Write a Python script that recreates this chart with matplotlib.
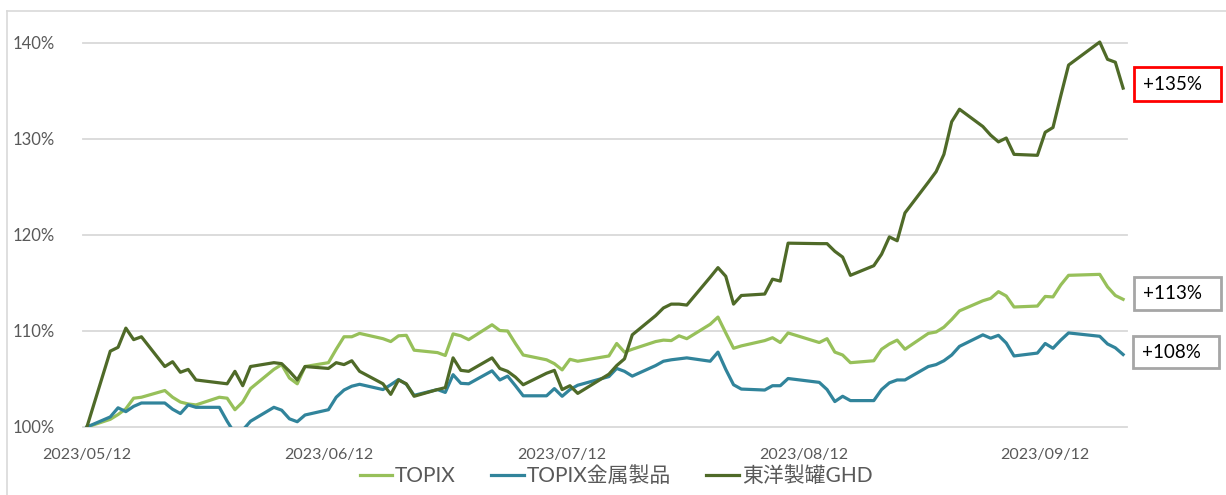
import matplotlib
matplotlib.use("Agg")
import matplotlib.pyplot as plt
from matplotlib.patches import Rectangle
from matplotlib.lines import Line2D
import pandas as pd

plt.rcParams['font.family'] = ['Lato', 'Noto Sans CJK JP', 'DejaVu Sans']

# ---------------- data ----------------
dates = [
    "2023-05-12", "2023-05-15", "2023-05-16", "2023-05-17", "2023-05-18", "2023-05-19",
    "2023-05-22", "2023-05-23", "2023-05-24", "2023-05-25", "2023-05-26",
    "2023-05-29", "2023-05-30", "2023-05-31",
    "2023-06-01", "2023-06-02", "2023-06-05", "2023-06-06", "2023-06-07", "2023-06-08", "2023-06-09",
    "2023-06-12", "2023-06-13", "2023-06-14", "2023-06-15", "2023-06-16",
    "2023-06-19", "2023-06-20", "2023-06-21", "2023-06-22", "2023-06-23",
    "2023-06-26", "2023-06-27", "2023-06-28", "2023-06-29", "2023-06-30",
    "2023-07-03", "2023-07-04", "2023-07-05", "2023-07-06", "2023-07-07",
    "2023-07-10", "2023-07-11", "2023-07-12", "2023-07-13", "2023-07-14",
    "2023-07-18", "2023-07-19", "2023-07-20", "2023-07-21",
    "2023-07-24", "2023-07-25", "2023-07-26", "2023-07-27", "2023-07-28", "2023-07-31",
    "2023-08-01", "2023-08-02", "2023-08-03", "2023-08-04",
    "2023-08-07", "2023-08-08", "2023-08-09", "2023-08-10",
    "2023-08-14", "2023-08-15", "2023-08-16", "2023-08-17", "2023-08-18",
    "2023-08-21", "2023-08-22", "2023-08-23", "2023-08-24", "2023-08-25",
    "2023-08-28", "2023-08-29", "2023-08-30", "2023-08-31",
    "2023-09-01", "2023-09-04", "2023-09-05", "2023-09-06", "2023-09-07", "2023-09-08",
    "2023-09-11", "2023-09-12", "2023-09-13", "2023-09-14", "2023-09-15",
    "2023-09-19", "2023-09-20", "2023-09-21", "2023-09-22",
]

topix = [
    100, 100.8, 101.3, 101.9, 103.0, 103.1, 103.8, 103.1, 102.6, 102.4, 102.3, 103.1, 103.0, 101.8,
    102.6, 104.0, 106.0, 106.5, 105.1, 104.5, 106.3, 106.7, 108.1, 109.4, 109.4, 109.75,
    109.2, 108.9, 109.5, 109.55, 108.0, 107.75, 107.45, 109.7, 109.5, 109.1,
    110.65, 110.05, 110.0, 108.7, 107.5, 107.0, 106.6, 105.95, 107.05, 106.85,
    107.4, 108.7, 107.8, 108.1, 108.9, 109.05, 109.0, 109.5, 109.2, 110.7,
    111.45, 109.8, 108.2, 108.45, 109.0, 109.3, 108.8, 109.8, 108.8, 109.2, 107.8, 107.5, 106.7,
    106.9, 108.1, 108.65, 109.05, 108.1, 109.75, 109.9, 110.4, 111.2,
    112.1, 113.15, 113.4, 114.1, 113.65, 112.5, 112.6, 113.6, 113.55, 114.8, 115.8,
    115.9, 114.6, 113.7, 113.3,
]

metal = [
    100, 101.05, 102.0, 101.6, 102.15, 102.5, 102.5, 101.85, 101.4, 102.3, 102.05, 102.05, 100.6, 99.3,
    99.67, 100.6, 102.05, 101.75, 100.85, 100.55, 101.25, 101.8, 103.1, 103.85, 104.25, 104.45,
    103.9, 104.4, 104.95, 104.45, 103.3, 103.9, 103.6, 105.45, 104.55, 104.5,
    105.85, 104.9, 105.3, 104.3, 103.25, 103.25, 104.0, 103.2, 103.9, 104.35,
    105.25, 106.1, 105.8, 105.3, 106.4, 106.85, 107.0, 107.1, 107.2, 106.85,
    107.8, 106.0, 104.4, 103.95, 103.85, 104.3, 104.3, 105.05, 104.65, 103.9, 102.65, 103.2, 102.75,
    102.75, 103.9, 104.6, 104.9, 104.9, 106.3, 106.5, 106.9, 107.5,
    108.4, 109.6, 109.25, 109.55, 108.75, 107.4, 107.7, 108.7, 108.2, 109.05, 109.8,
    109.45, 108.65, 108.25, 107.55,
]

toyo = [
    100, 107.9, 108.3, 110.3, 109.1, 109.4, 106.3, 106.8, 105.7, 106.0, 104.9, 104.6, 104.5, 105.8,
    104.3, 106.3, 106.7, 106.6, 105.8, 104.9, 106.3, 106.1, 106.7, 106.5, 106.9, 105.8,
    104.5, 103.4, 104.9, 104.5, 103.2, 103.9, 104.1, 107.2, 105.9, 105.8,
    107.2, 106.1, 105.8, 105.2, 104.4, 105.6, 105.9, 103.9, 104.3, 103.5,
    105.5, 106.4, 107.1, 109.6, 111.6, 112.4, 112.8, 112.8, 112.7, 115.6,
    116.6, 115.7, 112.8, 113.7, 113.85, 115.4, 115.2, 119.15, 119.1, 119.1, 118.3, 117.7, 115.8,
    116.8, 118.0, 119.8, 119.4, 122.3, 125.5, 126.6, 128.4, 131.8,
    133.1, 131.3, 130.4, 129.7, 130.1, 128.4, 128.3, 130.7, 131.2, 134.5, 137.7,
    140.1, 138.3, 138.0, 135.3,
]

series_names = ["TOPIX", "TOPIX金属製品", "東洋製罐GHD"]
end_labels = ["+113%", "+108%", "+135%"]
tick_dates = ["2023-05-12", "2023-06-12", "2023-07-12", "2023-08-12", "2023-09-12"]
y_ticks = [100, 110, 120, 130, 140]

# ---------------- styling ----------------
colors = ["#97C05A", "#31849B", "#4F6A28"]
W, H = 1226, 495
fig = plt.figure(figsize=(W / 100, H / 100), dpi=100)
fig.patch.set_facecolor("white")

# outer chart frame (only top & left edge visible in the crop)
fig.add_artist(Line2D([7 / W, 7 / W], [0, 1 - 11 / H], transform=fig.transFigure,
                      color="#D9D9D9", lw=1.2))
fig.add_artist(Line2D([7 / W, 1], [1 - 11 / H, 1 - 11 / H], transform=fig.transFigure,
                      color="#D9D9D9", lw=1.2))

ax = fig.add_axes([83 / W, 1 - 427 / H, (1127 - 83) / W, (427 - 33.4) / H])
x = pd.to_datetime(dates)
for vals, c, name in zip([topix, metal, toyo], colors, series_names):
    ax.plot(x, vals, color=c, lw=2.3, solid_joinstyle="round", label=name, zorder=3)

ax.set_ylim(100, 141)
ax.set_xlim(x[0] - pd.Timedelta(hours=12), x[-1] + pd.Timedelta(hours=12))
ax.set_yticks(y_ticks)
ax.set_yticklabels([f"{v}%" for v in y_ticks])
ax.set_xticks(pd.to_datetime(tick_dates))
ax.set_xticklabels([d.replace("-", "/") for d in tick_dates])
ax.grid(axis="y", color="#D9D9D9", lw=1.3)
ax.grid(axis="x", visible=False)
for gl in ax.get_ygridlines():
    gl.set_clip_on(False)
ax.set_axisbelow(True)
for s in ax.spines.values():
    s.set_visible(False)
ax.tick_params(length=0, colors="#595959")
ax.tick_params(axis="y", pad=20, labelsize=12)
ax.tick_params(axis="x", pad=15, labelsize=11.5)

# legend
handles = [Line2D([], [], color=c, lw=2.3) for c in colors]
leg = fig.legend(handles, series_names, loc="center", bbox_to_anchor=(616 / W, 1 - 476 / H),
                 ncol=3, frameon=False, fontsize=15, handlelength=1.55, handletextpad=0.15,
                 columnspacing=1.7, borderaxespad=0, borderpad=0)
for t in leg.get_texts():
    t.set_color("#595959")

# end-value boxes
boxes = [  # (x0, y0_top, x1, y1_bottom) in pixels, edge colour
    (1134, 277, 1221, 310, "#A6A6A6"),
    (1133, 336, 1219, 368, "#A6A6A6"),
    (1134, 67, 1221, 101, "#FF0000"),
]
for (x0, y0, x1, y1, ec), lab in zip(boxes, end_labels):
    fig.add_artist(Rectangle((x0 / W, 1 - y1 / H), (x1 - x0) / W, (y1 - y0) / H,
                             transform=fig.transFigure, facecolor="white",
                             edgecolor=ec, lw=2))
    fig.text((x0 + x1) / 2 / W - 5 / W, 1 - (y0 + y1) / 2 / H, lab, ha="center", va="center",
             fontsize=13.5, color="#000000")

fig.savefig("out.png", dpi=100)
